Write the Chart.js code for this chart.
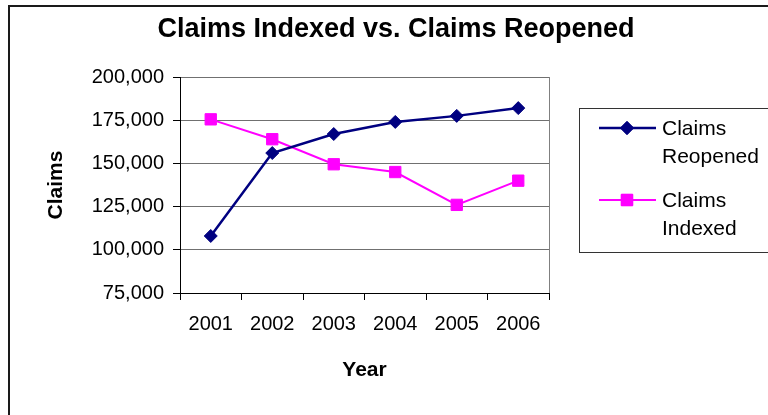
<!DOCTYPE html>
<html>
<head>
<meta charset="utf-8">
<script src="https://cdn.jsdelivr.net/npm/chart.js@4"></script>
<style>
  html, body { margin: 0; padding: 0; background: #fff; }
  #wrap { width: 768px; height: 415px; position: relative; }
</style>
</head>
<body>
<div id="wrap"><canvas id="c" width="768" height="415"></canvas></div>
<script>
// data
const years = ['2001', '2002', '2003', '2004', '2005', '2006'];
const reopened = [108000, 156000, 167000, 174000, 177500, 182000];
const indexed = [175500, 164000, 149500, 145000, 126000, 140000];
const yTicks = [75000, 100000, 125000, 150000, 175000, 200000];

const FONT = 'Arial, "Liberation Sans", sans-serif';
const PLOT = { left: 180, right: 549, top: 77, bottom: 293 };

// title, axis titles, borders, legend
const decor = {
  id: 'decor',
  afterDraw(chart) {
    const ctx = chart.ctx, a = chart.chartArea;
    ctx.save();

    // outer frame
    ctx.strokeStyle = '#1a1a1a'; ctx.lineWidth = 2;
    ctx.beginPath(); ctx.moveTo(9, 420); ctx.lineTo(9, 6); ctx.lineTo(775, 6); ctx.stroke();

    // plot area right edge
    ctx.strokeStyle = '#808080'; ctx.lineWidth = 1;
    ctx.beginPath(); ctx.moveTo(Math.round(a.right) + 0.5, a.top); ctx.lineTo(Math.round(a.right) + 0.5, a.bottom); ctx.stroke();

    ctx.fillStyle = '#000';
    ctx.textBaseline = 'alphabetic';
    ctx.textAlign = 'center';
    ctx.font = 'bold 27px ' + FONT;
    ctx.fillText('Claims Indexed vs. Claims Reopened', 396, 37);

    ctx.font = 'bold 21px ' + FONT;
    ctx.fillText('Year', (a.left + a.right) / 2, 376);

    ctx.save();
    ctx.translate(62, (a.top + a.bottom) / 2);
    ctx.rotate(-Math.PI / 2);
    ctx.fillText('Claims', 0, 0);
    ctx.restore();

    // legend
    ctx.strokeStyle = '#333'; ctx.lineWidth = 1;
    ctx.strokeRect(579.5, 108.5, 200, 144);
    const rows = [128, 200];
    ctx.textAlign = 'left';
    ctx.font = '21px ' + FONT;
    chart.data.datasets.forEach((ds, i) => {
      const y = rows[i];
      ctx.strokeStyle = ds.borderColor; ctx.lineWidth = ds.borderWidth;
      ctx.beginPath(); ctx.moveTo(599, y); ctx.lineTo(656, y); ctx.stroke();
      ctx.fillStyle = ds.pointBackgroundColor; ctx.strokeStyle = ds.pointBorderColor; ctx.lineWidth = 1;
      Chart.helpers.drawPoint(ctx, { pointStyle: ds.pointStyle, radius: ds.pointRadius, rotation: 0, borderWidth: 1 }, 627, y);
      ctx.fill(); ctx.stroke();
      ctx.fillStyle = '#000';
      ds.label.split(' ').forEach((w, j) => ctx.fillText(w, 662, y + 6.5 + j * 28.4));
    });
    ctx.restore();
  }
};

new Chart(document.getElementById('c'), {
  type: 'line',
  data: {
    labels: years,
    datasets: [
      {
        label: 'Claims Reopened',
        data: reopened,
        borderColor: '#000080',
        backgroundColor: '#000080',
        pointBackgroundColor: '#000080',
        pointBorderColor: '#000080',
        borderWidth: 2.5,
        pointStyle: 'rectRot',
        pointRadius: 6.5,
        pointBorderWidth: 1,
        tension: 0
      },
      {
        label: 'Claims Indexed',
        data: indexed,
        borderColor: '#ff00ff',
        backgroundColor: '#ff00ff',
        pointBackgroundColor: '#ff00ff',
        pointBorderColor: '#ff00ff',
        borderWidth: 2,
        pointStyle: 'rect',
        pointRadius: 8,
        pointBorderWidth: 1,
        tension: 0
      }
    ]
  },
  options: {
    responsive: false,
    animation: false,
    events: [],
    layout: { padding: { top: PLOT.top, right: 768 - PLOT.right, left: 0, bottom: 0 } },
    plugins: {
      legend: { display: false },
      title: { display: false },
      tooltip: { enabled: false }
    },
    scales: {
      x: {
        type: 'category',
        offset: true,
        afterFit: s => { s.height = 415 - PLOT.bottom; },
        grid: { offset: true, drawOnChartArea: false, tickLength: 7, tickColor: '#000', tickWidth: 1 },
        border: { display: true, color: '#000', width: 1 },
        ticks: { color: '#000', font: { family: FONT, size: 20 }, padding: 12, maxRotation: 0 }
      },
      y: {
        min: yTicks[0],
        max: yTicks[yTicks.length - 1],
        afterFit: s => { s.width = PLOT.left; },
        afterBuildTicks: s => { s.ticks = yTicks.map(v => ({ value: v })); },
        grid: { color: '#707070', lineWidth: 1, tickLength: 7, tickColor: '#000' },
        border: { display: true, color: '#000', width: 1 },
        ticks: {
          color: '#000',
          font: { family: FONT, size: 20 },
          padding: 9,
          callback: v => v.toLocaleString('en-US')
        }
      }
    }
  },
  plugins: [decor]
});
</script>
</body>
</html>
